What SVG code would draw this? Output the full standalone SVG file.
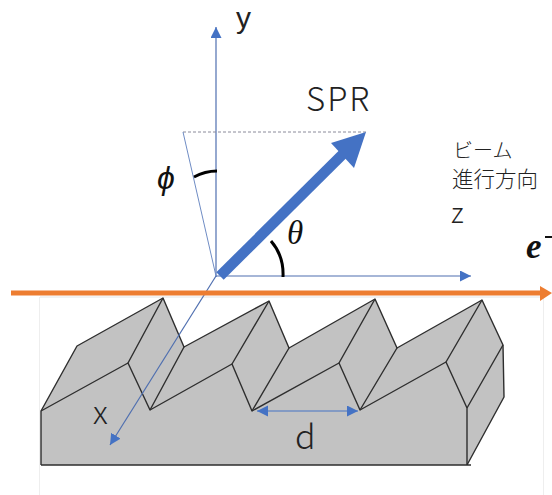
<svg xmlns="http://www.w3.org/2000/svg" width="552" height="495" viewBox="0 0 552 495">
<defs>
<marker id="b" markerUnits="userSpaceOnUse" markerWidth="13" markerHeight="13" refX="11" refY="5.500" orient="auto"><path d="M0 0L11 5.500L0 11Z" fill="#4472c4"/></marker>
<marker id="b2" markerUnits="userSpaceOnUse" markerWidth="13" markerHeight="13" refX="11" refY="5.500" orient="auto-start-reverse"><path d="M0 0L11 5.500L0 11Z" fill="#4472c4"/></marker>
</defs>
<style>
.t{font-family:"Noto Sans CJK JP","Noto Sans",sans-serif;font-weight:300;fill:#222}
.g{fill:none;stroke:#2e2e2e;stroke-width:1.4;stroke-linejoin:round}
.a{fill:none;stroke:#4f6fb0;stroke-width:1.2}
.m{font-family:"Liberation Serif",serif;font-style:italic;fill:#111}
</style>
<rect width="552" height="495" fill="#fff"/>
<path d="M39.500 297V495M543.500 297V495" stroke="#eeeeee" fill="none"/>
<path d="M40 297H543" stroke="#e4e4e4" fill="none"/>
<g id="grating">
<path d="M41 411L77 346L163 298L184 347L269 301L289 348L375 299L397 348L482 300L503 345L504 397L467 465H41Z" fill="#c2c2c2"/>
<path class="g" d="M41 465V411L77 346L163 298L184 347L269 301L289 348L375 299L397 348L482 300L503 345L504 397L467 465M41 465H471"/>
<path class="g" d="M41 411L128 363L150 410L232 364L252 411L339 363L360 410L446 362L467 408V465"/>
<path class="g" d="M128 363L163 298M150 410L184 347M232 364L269 301M252 411L289 348M339 363L375 299M360 410L397 348M446 362L482 300M467 408L503 345"/>
</g>
<g id="connectors">
<path class="a" d="M216 277V27" marker-end="url(#b)"/>
<path class="a" d="M216 276H471" marker-end="url(#b)"/>
<path class="a" d="M216 276L110 445" marker-end="url(#b)" stroke="#5b84cc"/>
<path d="M183 132H366" fill="none" stroke="#8a8a9a" stroke-width="1" stroke-dasharray="3 2"/>
<path d="M183 132L216 276" fill="none" stroke="#6f8cc4" stroke-width="1"/>
<path d="M220 276L350 147" fill="none" stroke="#4472c4" stroke-width="10.500"/>
<path d="M366 132L331 143L354 168Z" fill="#4472c4"/>
<path d="M11 293H540" fill="none" stroke="#ed7d31" stroke-width="5"/>
<path d="M540 286L552 293L540 301Z" fill="#ed7d31"/>
<path d="M257 411H358" fill="none" stroke="#4472c4" stroke-width="1.200" marker-start="url(#b2)" marker-end="url(#b2)"/>
<path d="M194 177Q205 171 217 171" fill="none" stroke="#000" stroke-width="3"/>
<path d="M271 241Q284 256 283 277" fill="none" stroke="#000" stroke-width="3"/>
</g>
<g id="labels">
<text x="236" y="28" font-size="30" fill="#222" font-family="'Liberation Sans',sans-serif">y</text>
<text class="t" x="306" y="111" font-size="33" letter-spacing="2">SPR</text>
<text class="t" x="453" y="158" font-size="20">ビーム</text>
<text class="t" x="452" y="187" font-size="21.500">進行方向</text>
<text class="t" x="451" y="223" font-size="28">z</text>
<text class="t" x="93" y="424" font-size="32">x</text>
<text class="t" x="295" y="449" font-size="34">d</text>
<text x="157" y="189" font-size="32" font-style="italic" fill="#111" font-family="'Liberation Sans',sans-serif">ϕ</text>
<text class="m" x="287" y="244" font-size="33">θ</text>
<text class="m" x="526" y="258" font-size="35" font-weight="bold">e</text>
<path d="M545 237H552" stroke="#111" stroke-width="2"/>
</g>
</svg>
